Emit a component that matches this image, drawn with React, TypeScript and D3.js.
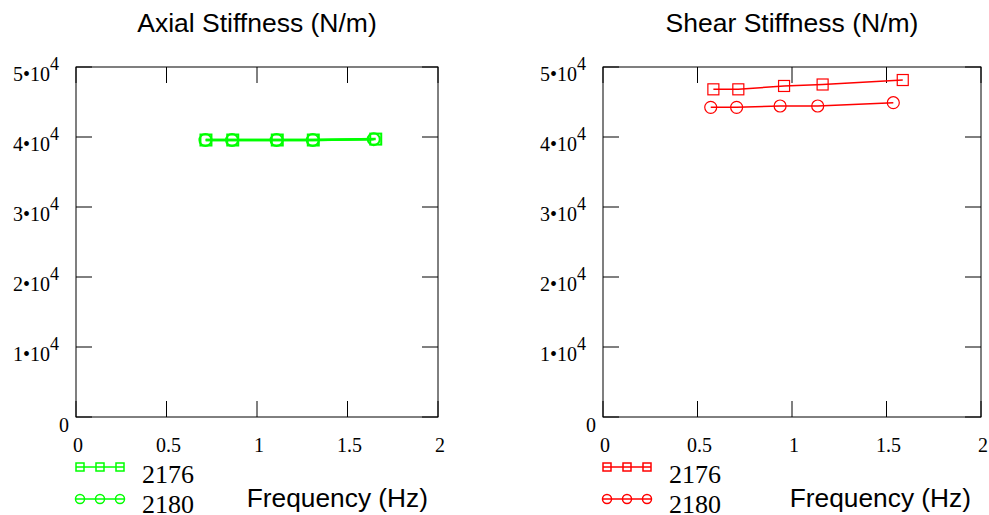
import React from "react";
import * as d3 from "d3";

const yTicks = [0, 10000, 20000, 30000, 40000, 50000];
const xTicks = [0, 0.5, 1, 1.5, 2];
const xTickLabels = ["0", "0.5", "1", "1.5", "2"];
const seriesNames = ["2176", "2180"];

const axialFreq2176 = [0.718, 0.866, 1.112, 1.311, 1.656];
const axialVal2176 = [39570, 39570, 39570, 39570, 39700];
const axialFreq2180 = [0.715, 0.862, 1.108, 1.308, 1.645];
const axialVal2180 = [39560, 39560, 39560, 39560, 39690];

const shearFreq2176 = [0.584, 0.716, 0.958, 1.162, 1.586];
const shearVal2176 = [46810, 46810, 47290, 47500, 48140];
const shearFreq2180 = [0.57, 0.707, 0.937, 1.136, 1.536];
const shearVal2180 = [44240, 44240, 44430, 44430, 44900];

const SERIF = "Liberation Serif";
const SANS = "Liberation Sans";
const serifStyle = { fontFamily: SERIF };
const sansStyle = { fontFamily: SANS };

type PanelProps = {
  title: string;
  x0: number;
  x1: number;
  color: string;
  lw: number;
  msize: number;
  s1: [number[], number[]];
  s2: [number[], number[]];
};

function Panel({ title, x0, x1, color, lw, msize, s1, s2 }: PanelProps) {
  const top = 67;
  const bottom = 417;
  const x = d3.scaleLinear().domain([0, 2]).range([x0, x1]);
  const y = d3.scaleLinear().domain([0, 50000]).range([bottom, top]);
  const tl = 16;
  const line = d3.line<[number, number]>().x((d) => x(d[0])).y((d) => y(d[1]));
  const pts1: [number, number][] = s1[0].map((f, i) => [f, s1[1][i]]);
  const pts2: [number, number][] = s2[0].map((f, i) => [f, s2[1][i]]);
  const h = msize / 2;
  const cx = (x0 + x1) / 2;
  const legX = x0;
  return (
    <g>
      <text x={cx} y={32} textAnchor="middle" style={sansStyle} fontSize={26.5}>
        {title}
      </text>
      <rect x={x0} y={top} width={x1 - x0} height={bottom - top} fill="none" stroke="#000" strokeWidth={1} />
      {xTicks.map((t, i) => (
        <g key={"xt" + i}>
          <line x1={x(t)} x2={x(t)} y1={bottom} y2={bottom - tl} stroke="#000" />
          <line x1={x(t)} x2={x(t)} y1={top} y2={top + tl} stroke="#000" />
          <text x={x(t) + 2} y={452} textAnchor="middle" style={serifStyle} fontSize={20}>
            {xTickLabels[i]}
          </text>
        </g>
      ))}
      {yTicks.map((t, i) => (
        <g key={"yt" + i}>
          <line x1={x0} x2={x0 + tl} y1={y(t)} y2={y(t)} stroke="#000" />
          <line x1={x1} x2={x1 - tl} y1={y(t)} y2={y(t)} stroke="#000" />
          {t === 0 ? (
            <text x={x0 - 7} y={y(t) + 15} textAnchor="end" style={serifStyle} fontSize={20}>
              0
            </text>
          ) : (
            <text x={x0 - 17} y={y(t) + 14} textAnchor="end" style={serifStyle} fontSize={20}>
              {`${t / 10000}•10`}
              <tspan fontSize={18} dy={-11}>4</tspan>
            </text>
          )}
        </g>
      ))}
      <path d={line(pts1) || ""} fill="none" stroke={color} strokeWidth={lw} />
      <path d={line(pts2) || ""} fill="none" stroke={color} strokeWidth={lw} />
      {pts1.map((p, i) => (
        <rect key={"s" + i} x={x(p[0]) - h} y={y(p[1]) - h} width={msize} height={msize} fill="none" stroke={color} strokeWidth={lw * 0.8} />
      ))}
      {pts2.map((p, i) => (
        <circle key={"c" + i} cx={x(p[0])} cy={y(p[1])} r={h + 0.5} fill="none" stroke={color} strokeWidth={lw * 0.8} />
      ))}
      <g>
        <line x1={legX} x2={legX + 48} y1={467} y2={467} stroke={color} strokeWidth={1.5} />
        {[4, 24, 44].map((dx, i) => (
          <rect key={"ls" + i} x={legX + dx - 4} y={463} width={8} height={8} fill="none" stroke={color} strokeWidth={1.5} />
        ))}
        <text x={legX + 66} y={483} style={serifStyle} fontSize={26}>
          {seriesNames[0]}
        </text>
        <line x1={legX} x2={legX + 48} y1={499} y2={499} stroke={color} strokeWidth={1.5} />
        {[4, 24, 44].map((dx, i) => (
          <circle key={"lc" + i} cx={legX + dx} cy={499} r={4.5} fill="none" stroke={color} strokeWidth={1.5} />
        ))}
        <text x={legX + 66} y={513} style={serifStyle} fontSize={26}>
          {seriesNames[1]}
        </text>
      </g>
      <text x={x1 - 10} y={507} textAnchor="end" style={sansStyle} fontSize={26.3}>
        Frequency (Hz)
      </text>
    </g>
  );
}

export default function App() {
  return (
    <svg width={989} height={515} style={{ position: "absolute", left: 0, top: 0, background: "#fff", fontFamily: SERIF }}>
      <rect width={989} height={515} fill="#fff" />
      <Panel
        title="Axial Stiffness (N/m)"
        x0={76}
        x1={438}
        color="#00ff00"
        lw={2.5}
        msize={11}
        s1={[axialFreq2176, axialVal2176]}
        s2={[axialFreq2180, axialVal2180]}
      />
      <Panel
        title="Shear Stiffness (N/m)"
        x0={603}
        x1={981}
        color="#ff0000"
        lw={1.5}
        msize={11}
        s1={[shearFreq2176, shearVal2176]}
        s2={[shearFreq2180, shearVal2180]}
      />
    </svg>
  );
}
